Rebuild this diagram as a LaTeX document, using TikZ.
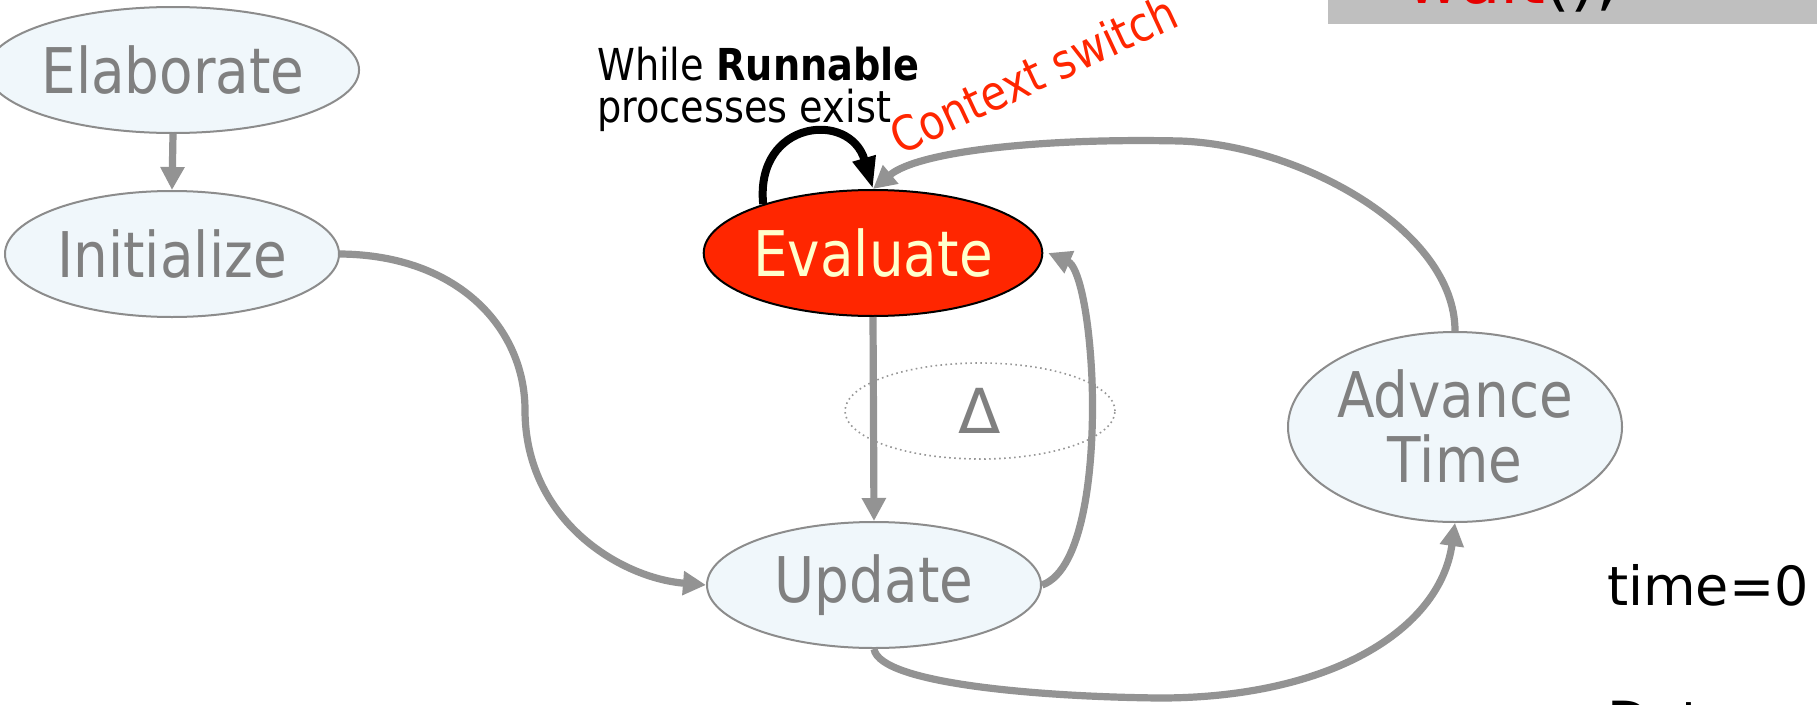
\documentclass[tikz,border=0pt]{standalone}
\usepackage{fontspec}
\setmainfont{DejaVu Sans}
\newfontfamily\narrowsans{DejaVu Sans}[FakeStretch=0.87]
\usetikzlibrary{arrows.meta,shapes.geometric}

\definecolor{linegrey}{RGB}{147,147,147}
\definecolor{nodeborder}{RGB}{140,140,140}
\definecolor{nodefill}{RGB}{240,247,251}
\definecolor{textgrey}{RGB}{128,128,128}
\definecolor{evalred}{RGB}{255,38,0}
\definecolor{evaltext}{RGB}{255,255,204}
\definecolor{boxgrey}{RGB}{191,191,191}
\definecolor{codered}{RGB}{230,0,0}
\definecolor{dotgrey}{RGB}{150,150,150}

\begin{document}
\begin{tikzpicture}[x=1pt,y=-1pt,
  state/.style={ellipse, draw=nodeborder, line width=2pt, fill=nodefill,
    text=textgrey, inner sep=0pt, minimum width=334pt, minimum height=126pt,
    font=\narrowsans\fontsize{63}{65}\selectfont},
  flow/.style={draw=linegrey, line width=7.2pt, -{Triangle[length=23pt,width=23pt]}},
  label/.style={anchor=base west, inner sep=0pt}
]
\useasboundingbox (0,0) rectangle (1817,704);
\clip (0,0) rectangle (1817,704);
\fill[white] (0,0) rectangle (1817,704);

% code box in the top right corner
\fill[boxgrey] (1328,-80) rectangle (1817,24);
\node[label, font=\fontsize{66}{70}\selectfont] (code) at (1406,3)
  {\textcolor{codered}{wait}();};

% delta cycle marker
\node[ellipse, draw=dotgrey, line width=1.6pt, dash pattern=on 1.6pt off 3.4pt,
  minimum width=270pt, minimum height=96pt, inner sep=0pt, text=textgrey,
  font=\fontsize{62}{62}\selectfont] (delta) at (980,411) {Δ};

% simulation phases
\node[state] (elab) at (173,70) {Elaborate};
\node[state] (init) at (172,254) {Initialize};
\node[state, fill=evalred, draw=black, text=evaltext] (eval) at (873,253) {Evaluate};
\node[state] (upd) at (874,585) {Update};
\node[state, minimum height=190pt, align=center] (adv) at (1455,427) {Advance\\Time};

% transitions
\draw[flow] (elab.south) -- (init.north);
\draw[flow] (init.east) .. controls (460,255) and (525,330) .. (525,410)
  .. controls (525,520) and (620,578) .. (upd.west);
\draw[flow] (eval.south) -- (upd.north);
\draw[flow] (upd.east) .. controls (1085,570) and (1095,460) .. (1092,380)
  .. controls (1089,310) and (1078,266) .. ([xshift=5pt]eval.east);
\draw[flow] (upd.south) .. controls (880,685) and (1050,697) .. (1160,698)
  .. controls (1330,698) and (1440,630) .. (adv.south);
\draw[flow] (adv.north) .. controls (1455,230) and (1300,145) .. (1180,141)
  .. controls (1050,138) and (920,150) .. (eval.north);

% evaluate self loop
\draw[line width=8pt, black, -{Triangle[length=32pt,width=22pt]}]
  (eval.156) .. controls (755,120) and (850,110) .. (eval.north);

% annotations
\node[label, font=\narrowsans\fontsize{44}{42}\selectfont] (while1) at (597,80)
  {While \textbf{Runnable}};
\node[label, font=\narrowsans\fontsize{44}{42}\selectfont] (while2) at (597,122)
  {processes exist};
\node[label, rotate=25, text=evalred, font=\narrowsans\fontsize{48}{48}\selectfont]
  (ctx) at (900,156) {Context switch};
\node[label, font=\fontsize{54}{54}\selectfont] (time) at (1607,605) {time=0};
\node[label, font=\fontsize{54}{54}\selectfont] (data) at (1607,740) {Data};
\end{tikzpicture}
\end{document}
